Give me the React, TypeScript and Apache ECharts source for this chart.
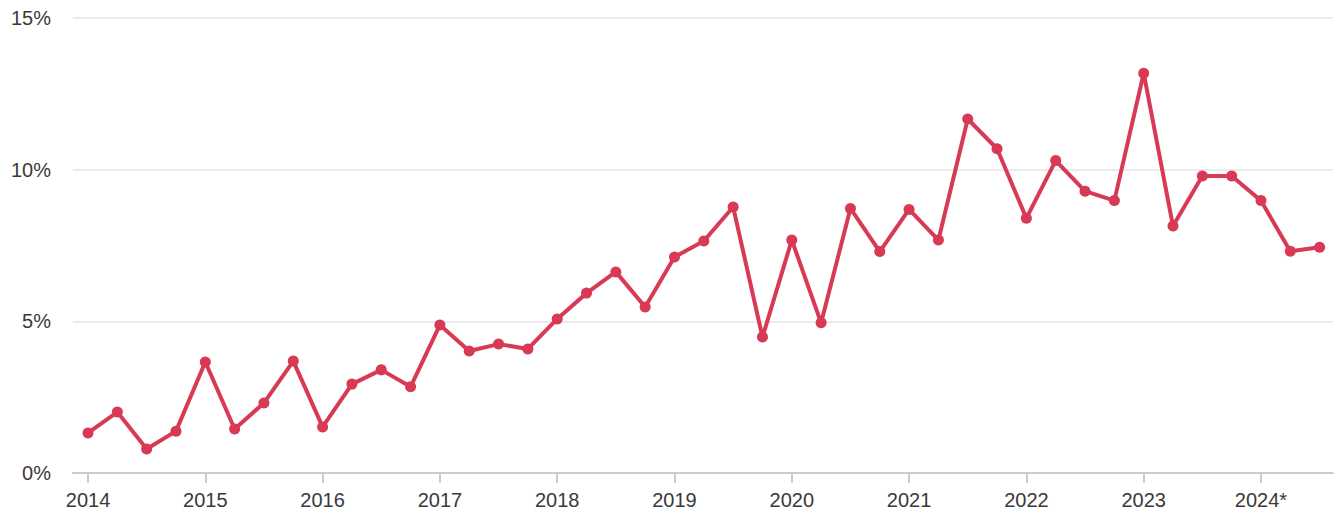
import React, { useEffect, useRef } from "react";
import * as echarts from "echarts";

const quarters: string[] = [
  "2014 Q1", "2014 Q2", "2014 Q3", "2014 Q4",
  "2015 Q1", "2015 Q2", "2015 Q3", "2015 Q4",
  "2016 Q1", "2016 Q2", "2016 Q3", "2016 Q4",
  "2017 Q1", "2017 Q2", "2017 Q3", "2017 Q4",
  "2018 Q1", "2018 Q2", "2018 Q3", "2018 Q4",
  "2019 Q1", "2019 Q2", "2019 Q3", "2019 Q4",
  "2020 Q1", "2020 Q2", "2020 Q3", "2020 Q4",
  "2021 Q1", "2021 Q2", "2021 Q3", "2021 Q4",
  "2022 Q1", "2022 Q2", "2022 Q3", "2022 Q4",
  "2023 Q1", "2023 Q2", "2023 Q3", "2023 Q4",
  "2024 Q1", "2024 Q2", "2024 Q3",
];

const values: number[] = [
  1.32, 2.01, 0.79, 1.38,
  3.66, 1.45, 2.31, 3.69,
  1.52, 2.93, 3.4, 2.84,
  4.88, 4.02, 4.25, 4.09,
  5.08, 5.93, 6.63, 5.47,
  7.12, 7.65, 8.77, 4.48,
  7.68, 4.95, 8.72, 7.3,
  8.69, 7.68, 11.67, 10.69,
  8.4, 10.3, 9.29, 8.98,
  13.18, 8.14, 9.79, 9.79,
  8.98, 7.31, 7.44,
];

const yearTicks: number[] = [2014, 2015, 2016, 2017, 2018, 2019, 2020, 2021, 2022, 2023, 2024];
const yearLabels: string[] = ["2014", "2015", "2016", "2017", "2018", "2019", "2020", "2021", "2022", "2023", "2024*"];

const quarterToNumber = (q: string): number => {
  const [y, qq] = q.split(" Q");
  return Number(y) + (Number(qq) - 1) / 4;
};

export default function App() {
  const ref = useRef<HTMLDivElement>(null);

  useEffect(() => {
    if (!ref.current) return;
    const chart = echarts.init(ref.current, null, { renderer: "svg" });
    const data = quarters.map((q, i) => [quarterToNumber(q), values[i]]);
    chart.setOption({
      animation: false,
      grid: { left: 73, right: 8, top: 18, bottom: 41, containLabel: false },
      xAxis: {
        type: "value",
        min: 2013.872,
        max: 2024.614,
        axisLine: { show: true, lineStyle: { color: "#cccccc", width: 2 } },
        axisTick: {
          show: true,
          customValues: yearTicks,
          length: 10,
          lineStyle: { color: "#cccccc", width: 2 },
        },
        axisLabel: {
          customValues: yearTicks,
          formatter: (v: number) => yearLabels[yearTicks.indexOf(Math.round(v))] ?? String(v),
          color: "#3a3a3a",
          fontSize: 20,
          fontFamily: "Liberation Sans, Arial, sans-serif",
          margin: 17,
        },
        splitLine: { show: false },
      },
      yAxis: {
        type: "value",
        min: 0,
        max: 15,
        interval: 5,
        axisLine: { show: false },
        axisTick: { show: false },
        axisLabel: {
          formatter: "{value}%",
          color: "#3a3a3a",
          fontSize: 20,
          fontFamily: "Liberation Sans, Arial, sans-serif",
          margin: 22,
        },
        splitLine: { show: true, lineStyle: { color: "#ebebeb", width: 2 } },
      },
      series: [
        {
          type: "line",
          data,
          symbol: "circle",
          symbolSize: 11,
          showSymbol: true,
          lineStyle: { color: "#d83a56", width: 4 },
          itemStyle: { color: "#d83a56" },
          z: 3,
        },
      ],
    });
    return () => chart.dispose();
  }, []);

  return (
    <div
      ref={ref}
      style={{ position: "fixed", left: 0, top: 0, width: 1341, height: 514, background: "#ffffff" }}
    />
  );
}
